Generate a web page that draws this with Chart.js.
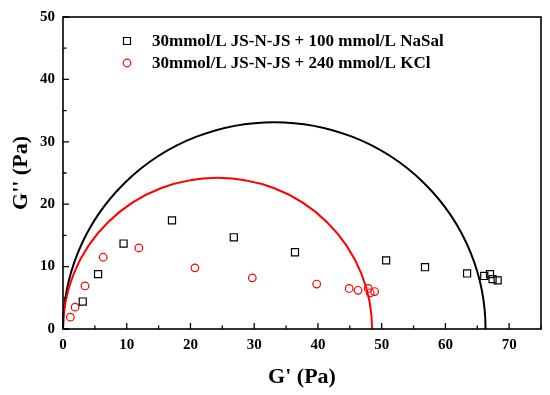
<!DOCTYPE html>
<html>
<head>
<meta charset="utf-8">
<script src="https://cdn.jsdelivr.net/npm/chart.js@4.4.1/dist/chart.umd.min.js"></script>
<style>
  html, body { margin: 0; padding: 0; background: #fff; }
  #wrap { width: 550px; height: 395px; }
</style>
</head>
<body>
<div id="wrap"><canvas id="chart" width="550" height="395"></canvas></div>
<script>
// Data
const seriesLabels = ['30mmol/L JS-N-JS + 100 mmol/L NaSal', '30mmol/L JS-N-JS + 240 mmol/L KCl'];
const seriesColors = ['#000000', '#ff0000'];

const nasalG1 = [3.1, 5.5, 9.5, 17.1, 26.8, 36.4, 50.7, 56.8, 63.4, 66.1, 67.0, 67.4, 68.2];
const nasalG2 = [4.4, 8.8, 13.7, 17.4, 14.7, 12.3, 11.0, 9.9, 8.9, 8.5, 8.8, 8.0, 7.8];

const kclG1 = [1.15, 1.9, 3.45, 6.3, 11.9, 20.7, 29.7, 39.8, 44.9, 46.3, 47.9, 48.2, 48.9];
const kclG2 = [1.9, 3.5, 6.9, 11.5, 13.0, 9.8, 8.2, 7.2, 6.5, 6.2, 6.5, 5.8, 6.0];

// Fitted Cole-Cole semicircles: centre on G' axis and radius (Pa)
const fitCenters = [33.15, 24.25];
const fitRadii = [33.15, 24.25];

const xMajorTicks = [0, 10, 20, 30, 40, 50, 60, 70];
const yMajorTicks = [0, 10, 20, 30, 40, 50];

const serif = "'Liberation Serif', 'Times New Roman', serif";

function toPoints(xs, ys) {
    return xs.map((x, i) => ({ x: x, y: ys[i] }));
}

// Semicircles, frame, inward ticks and the legend
const decorPlugin = {
    id: 'decor',
    beforeDatasetsDraw(chart) {
        const { ctx, scales: { x, y } } = chart;
        ctx.save();
        fitCenters.forEach((c, i) => {
            const cx = x.getPixelForValue(c);
            const cy = y.getPixelForValue(0);
            const rx = x.getPixelForValue(c + fitRadii[i]) - cx;
            const ry = cy - y.getPixelForValue(fitRadii[i]);
            ctx.beginPath();
            ctx.ellipse(cx, cy, rx, ry, 0, Math.PI, 2 * Math.PI);
            ctx.strokeStyle = seriesColors[i];
            ctx.lineWidth = 2;
            ctx.stroke();
        });
        ctx.restore();
    },
    afterDraw(chart) {
        const { ctx, chartArea: a, scales: { x, y } } = chart;
        ctx.save();
        ctx.strokeStyle = '#000';
        ctx.lineWidth = 1.6;
        ctx.strokeRect(a.left, a.top, a.right - a.left, a.bottom - a.top);

        ctx.lineWidth = 1.3;
        ctx.beginPath();
        for (let v = 0; v <= 75; v += 5) {
            const px = x.getPixelForValue(v);
            const len = v % 10 === 0 ? 6 : 3.5;
            ctx.moveTo(px, a.bottom);
            ctx.lineTo(px, a.bottom - len);
        }
        for (let v = 0; v <= 50; v += 5) {
            const py = y.getPixelForValue(v);
            const len = v % 10 === 0 ? 6 : 3.5;
            ctx.moveTo(a.left, py);
            ctx.lineTo(a.left + len, py);
        }
        ctx.stroke();

        // legend
        ctx.font = 'bold 17px ' + serif;
        ctx.textBaseline = 'middle';
        ctx.textAlign = 'left';
        const rows = [41, 63];
        rows.forEach((ry, i) => {
            ctx.strokeStyle = seriesColors[i];
            ctx.lineWidth = 1.2;
            ctx.beginPath();
            if (i === 0) {
                ctx.rect(123.5, ry - 3.5, 7, 7);
            } else {
                ctx.arc(127, ry, 3.8, 0, 2 * Math.PI);
            }
            ctx.stroke();
            ctx.fillStyle = '#000';
            ctx.fillText(seriesLabels[i], 152, ry + 1);
        });
        ctx.restore();
    }
};

const ctx = document.getElementById('chart').getContext('2d');
new Chart(ctx, {
    type: 'scatter',
    data: {
        datasets: [
            {
                label: seriesLabels[0],
                data: toPoints(nasalG1, nasalG2),
                pointStyle: 'rect',
                pointRadius: 5,
                borderColor: seriesColors[0],
                backgroundColor: 'rgba(0,0,0,0)',
                borderWidth: 1.2
            },
            {
                label: seriesLabels[1],
                data: toPoints(kclG1, kclG2),
                pointStyle: 'circle',
                pointRadius: 3.8,
                borderColor: seriesColors[1],
                backgroundColor: 'rgba(0,0,0,0)',
                borderWidth: 1.2
            }
        ]
    },
    options: {
        responsive: false,
        animation: false,
        devicePixelRatio: 1,
        layout: { padding: { top: 10, right: 9, left: 0, bottom: 0 } },
        plugins: {
            legend: { display: false },
            tooltip: { enabled: false }
        },
        scales: {
            x: {
                type: 'linear',
                min: 0,
                max: 75,
                afterFit(scale) { scale.height = 66; },
                afterBuildTicks(scale) { scale.ticks = xMajorTicks.map(v => ({ value: v })); },
                grid: { display: false, drawTicks: false },
                border: { display: false },
                ticks: {
                    padding: 7,
                    color: '#000',
                    font: { family: serif, size: 15, weight: 'bold' }
                },
                title: {
                    display: true,
                    text: "G' (Pa)",
                    color: '#000',
                    font: { family: serif, size: 22, weight: 'bold' },
                    padding: { top: 0, bottom: 4 }
                }
            },
            y: {
                type: 'linear',
                min: 0,
                max: 50,
                afterFit(scale) { scale.width = 63; },
                afterBuildTicks(scale) { scale.ticks = yMajorTicks.map(v => ({ value: v })); },
                grid: { display: false, drawTicks: false },
                border: { display: false },
                ticks: {
                    padding: 8,
                    color: '#000',
                    font: { family: serif, size: 15, weight: 'bold' }
                },
                title: {
                    display: true,
                    text: "G'' (Pa)",
                    color: '#000',
                    font: { family: serif, size: 22, weight: 'bold' },
                    padding: { top: 8, bottom: 0 }
                }
            }
        }
    },
    plugins: [decorPlugin]
});
</script>
</body>
</html>
